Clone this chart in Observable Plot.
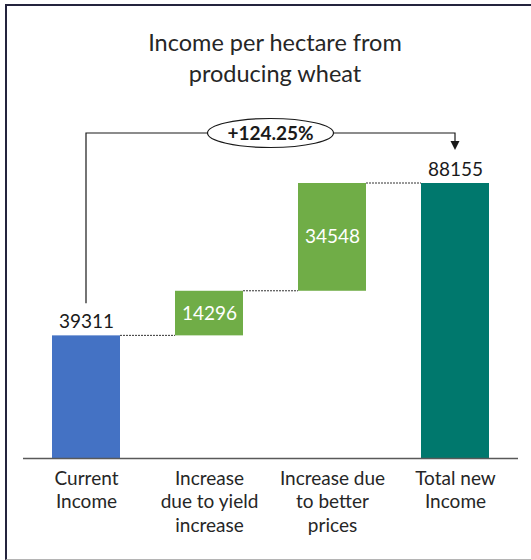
<!DOCTYPE html>
<html>
<head>
<meta charset="utf-8">
<script src="https://cdn.jsdelivr.net/npm/d3@7"></script>
<script src="https://cdn.jsdelivr.net/npm/@observablehq/plot@0.6"></script>
<style>
  html, body { margin: 0; padding: 0; background: #fff; width: 531px; height: 560px; overflow: hidden; }
  #frame { position: absolute; left: 5px; top: 4px; width: 560px; height: 553px;
           border-top: 2px solid #24243d; border-left: 2px solid #24243d; border-bottom: 1px solid #b4b4b4; }
  #title { position: absolute; left: 0; top: 27px; width: 550px; text-align: center;
           font-family: Lato, "Open Sans", sans-serif; font-size: 23.5px; line-height: 31px; color: #262626; }
  #chart { position: absolute; left: 0; top: 90px; }
</style>
</head>
<body>
<div id="frame"></div>
<div id="title">Income per hectare from<br>producing wheat</div>
<div id="chart"></div>
<script>
const categories = ["Current Income", "Increase due to yield increase", "Increase due to better prices", "Total new Income"];
const tickLabels = ["Current\nIncome", "Increase\ndue to yield\nincrease", "Increase due\nto better\nprices", "Total new\nIncome"];
const values = [39311, 14296, 34548, 88155];
const kinds = ["total", "delta", "delta", "total"];
const barColors = ["#4472C4", "#70AD47", "#70AD47", "#00786D"];
const changeLabel = "+124.25%";

let run = 0;
const rows = categories.map((cat, i) => {
  let y1, y2;
  if (kinds[i] === "total") { y1 = 0; y2 = values[i]; }
  else { y1 = run; y2 = run + values[i]; }
  run = y2;
  return {cat, value: values[i], kind: kinds[i], y1, y2, mid: (y1 + y2) / 2, color: barColors[i]};
});

const font = "Lato, 'Open Sans', sans-serif";
const plot = Plot.plot({
  width: 531,
  height: 448,
  marginLeft: 23,
  marginRight: 13,
  marginTop: 93,
  marginBottom: 80,
  style: {fontFamily: font, color: "#262626", background: "transparent", overflow: "visible"},
  x: {domain: categories, paddingInner: 0.45, paddingOuter: 0.225, label: null},
  y: {domain: [0, d3.max(rows, d => d.y2)], axis: null},
  color: {type: "identity"},
  marks: [
    Plot.rectY(rows, {x: "cat", y1: "y1", y2: "y2", fill: d => d.color}),
    Plot.ruleY([0], {stroke: "#595959", strokeWidth: 1.5}),
    Plot.axisX({tickSize: 0, tickPadding: 9, fontSize: 19, lineHeight: 1.26,
                tickFormat: d => tickLabels[categories.indexOf(d)], fill: "#262626"}),
    Plot.text(rows.filter(d => d.kind === "total"), {x: "cat", y: "y2", text: d => String(d.value),
                dy: -14, fontSize: 19, fill: "#1a1a1a"}),
    Plot.text(rows.filter(d => d.kind === "delta"), {x: "cat", y: "mid", text: d => String(d.value),
                fontSize: 19, fill: "#ffffff"})
  ]
});
document.getElementById("chart").appendChild(plot);

// overlays derived from the plot's own scales
const xs = plot.scale("x"), ys = plot.scale("y");
const svg = d3.select(plot);
const bw = xs.bandwidth;
const g = svg.append("g");
// dotted connectors between bars
for (let i = 0; i < rows.length - 1; i++) {
  const xa = xs.apply(rows[i].cat) + bw, xb = xs.apply(rows[i + 1].cat);
  const yy = ys.apply(rows[i].y2);
  g.append("line").attr("x1", xa).attr("x2", xb).attr("y1", yy).attr("y2", yy)
    .attr("stroke", "#333").attr("stroke-width", 1).attr("stroke-dasharray", "2,1");
}
// bracket from first to last bar
const first = rows[0], last = rows[rows.length - 1];
const cx0 = xs.apply(first.cat) + bw / 2, cx1 = xs.apply(last.cat) + bw / 2;
const yTopLast = ys.apply(last.y2);
const yBr = yTopLast - 50;
const yLeftBottom = ys.apply(first.y2) - 32;
const yTip = yTopLast - 33;
g.append("path").attr("d", `M${cx0},${yLeftBottom}V${yBr}H${cx1}V${yTip - 8}`)
  .attr("fill", "none").attr("stroke", "#1a1a1a").attr("stroke-width", 1.2);
g.append("path").attr("d", `M${cx1 - 4.5},${yTip - 9}L${cx1 + 4.5},${yTip - 9}L${cx1},${yTip}Z`).attr("fill", "#1a1a1a");
const ecx = (cx0 + cx1) / 2;
g.append("ellipse").attr("cx", ecx).attr("cy", yBr).attr("rx", 63).attr("ry", 14.5)
  .attr("fill", "#fff").attr("stroke", "#1a1a1a").attr("stroke-width", 1.2);
g.append("text").attr("x", ecx).attr("y", yBr).attr("dy", "0.36em").attr("text-anchor", "middle")
  .attr("font-family", font).attr("font-weight", "bold").attr("font-size", 19).attr("fill", "#1a1a1a")
  .text(changeLabel);
</script>
</body>
</html>
